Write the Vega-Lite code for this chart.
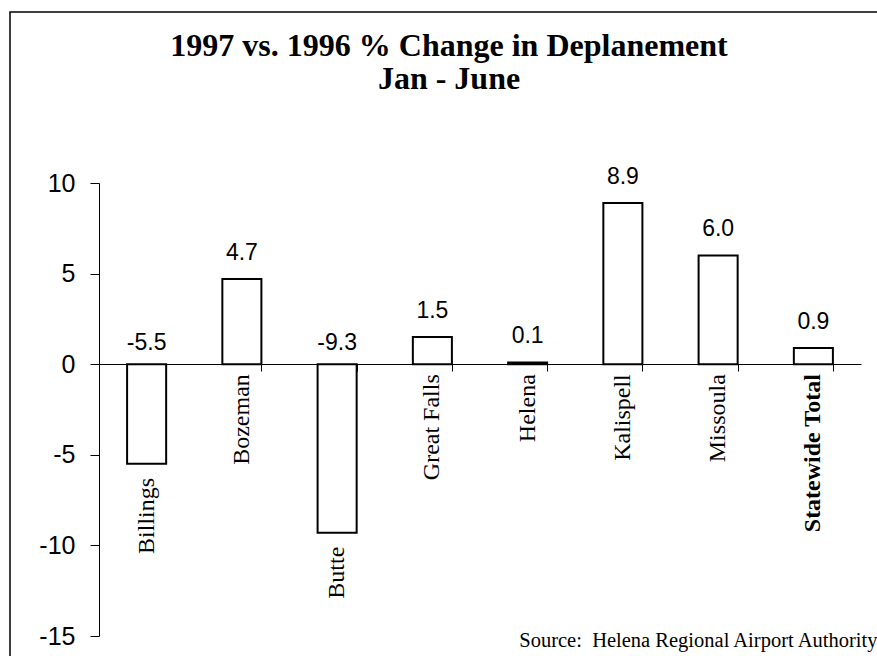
{
  "$schema": "https://vega.github.io/schema/vega-lite/v6.json",
  "width": 870,
  "height": 648,
  "autosize": {"type": "none"},
  "padding": {"left": 10, "top": 12, "right": -3, "bottom": -4},
  "background": "white",
  "config": {
    "view": {"stroke": "black", "strokeWidth": 1.5},
    "locale": {"number": {"decimal": ".", "thousands": ",", "grouping": [3], "currency": ["$", ""], "minus": "-"}},
    "font": "Liberation Sans"
  },
  "title": {
    "text": ["1997 vs. 1996 % Change in Deplanement", "Jan - June"],
    "font": "Liberation Serif",
    "fontSize": 32,
    "fontWeight": "bold",
    "color": "black",
    "anchor": "middle",
    "frame": "group",
    "lineHeight": 33,
    "offset": 0,
    "baseline": "bottom",
    "dy": 116,
    "dx": 4
  },
  "data": {
    "values": [
      {"airport": "Billings", "value": -5.5},
      {"airport": "Bozeman", "value": 4.7},
      {"airport": "Butte", "value": -9.3},
      {"airport": "Great Falls", "value": 1.5},
      {"airport": "Helena", "value": 0.1},
      {"airport": "Kalispell", "value": 8.9},
      {"airport": "Missoula", "value": 6.0},
      {"airport": "Statewide Total", "value": 0.9}
    ]
  },
  "encoding": {
    "x": {
      "field": "airport",
      "type": "nominal",
      "sort": null,
      "scale": {"range": [89, 851], "paddingInner": 0.59, "paddingOuter": 0.295},
      "axis": {
        "orient": "bottom",
        "offset": -296,
        "labels": false,
        "title": null,
        "tickBand": "extent",
        "tickSize": 7,
        "domainColor": "black",
        "tickColor": "black",
        "domainWidth": 1,
        "grid": false
      }
    },
    "y": {
      "field": "value",
      "type": "quantitative",
      "scale": {"domain": [-15, 10], "range": [624, 171], "nice": false, "zero": false},
      "axis": {
        "orient": "left",
        "offset": -89,
        "values": [-15, -10, -5, 0, 5, 10],
        "tickSize": 9,
        "labelPadding": 15,
        "labelFontSize": 25,
        "labelFont": "Liberation Sans",
        "labelColor": "black",
        "domainColor": "black",
        "tickColor": "black",
        "grid": false,
        "title": null
      }
    }
  },
  "layer": [
    {
      "mark": {"type": "bar", "fill": "white", "stroke": "black", "strokeWidth": 2},
      "encoding": {"y2": {"datum": 0}}
    },
    {
      "transform": [{"filter": "datum.value >= 0"}],
      "mark": {"type": "text", "font": "Liberation Sans", "fontSize": 23, "baseline": "alphabetic", "dy": -19, "color": "black"},
      "encoding": {"text": {"field": "value", "type": "quantitative", "format": ".1f"}}
    },
    {
      "transform": [{"filter": "datum.value < 0"}],
      "mark": {"type": "text", "font": "Liberation Sans", "fontSize": 23, "baseline": "alphabetic", "dy": -14, "color": "black"},
      "encoding": {
        "y": {"datum": 0, "type": "quantitative"},
        "text": {"field": "value", "type": "quantitative", "format": ".1f"}
      }
    },
    {
      "transform": [{"filter": "datum.value < 0"}],
      "mark": {"type": "text", "font": "Liberation Serif", "fontSize": 24, "angle": 270, "align": "right", "baseline": "middle", "dx": -14, "color": "black"},
      "encoding": {"text": {"field": "airport", "type": "nominal"}}
    },
    {
      "transform": [{"filter": "datum.value >= 0 && datum.airport !== 'Statewide Total'"}],
      "mark": {"type": "text", "font": "Liberation Serif", "fontSize": 24, "angle": 270, "align": "right", "baseline": "middle", "dx": -10, "color": "black"},
      "encoding": {
        "y": {"datum": 0, "type": "quantitative"},
        "text": {"field": "airport", "type": "nominal"}
      }
    },
    {
      "transform": [{"filter": "datum.airport === 'Statewide Total'"}],
      "mark": {"type": "text", "font": "Liberation Serif", "fontSize": 24, "fontWeight": "bold", "angle": 270, "align": "right", "baseline": "middle", "dx": -10, "color": "black"},
      "encoding": {
        "y": {"datum": 0, "type": "quantitative"},
        "text": {"field": "airport", "type": "nominal"}
      }
    },
    {
      "transform": [{"filter": "datum.airport === 'Statewide Total'"}],
      "mark": {"type": "text", "text": "Source: \u00a0Helena Regional Airport Authority", "font": "Liberation Serif", "fontSize": 20.5, "align": "right", "baseline": "alphabetic", "dx": 64, "dy": 11, "color": "black"},
      "encoding": {
        "y": {"datum": -15, "type": "quantitative"}
      }
    }
  ]
}
